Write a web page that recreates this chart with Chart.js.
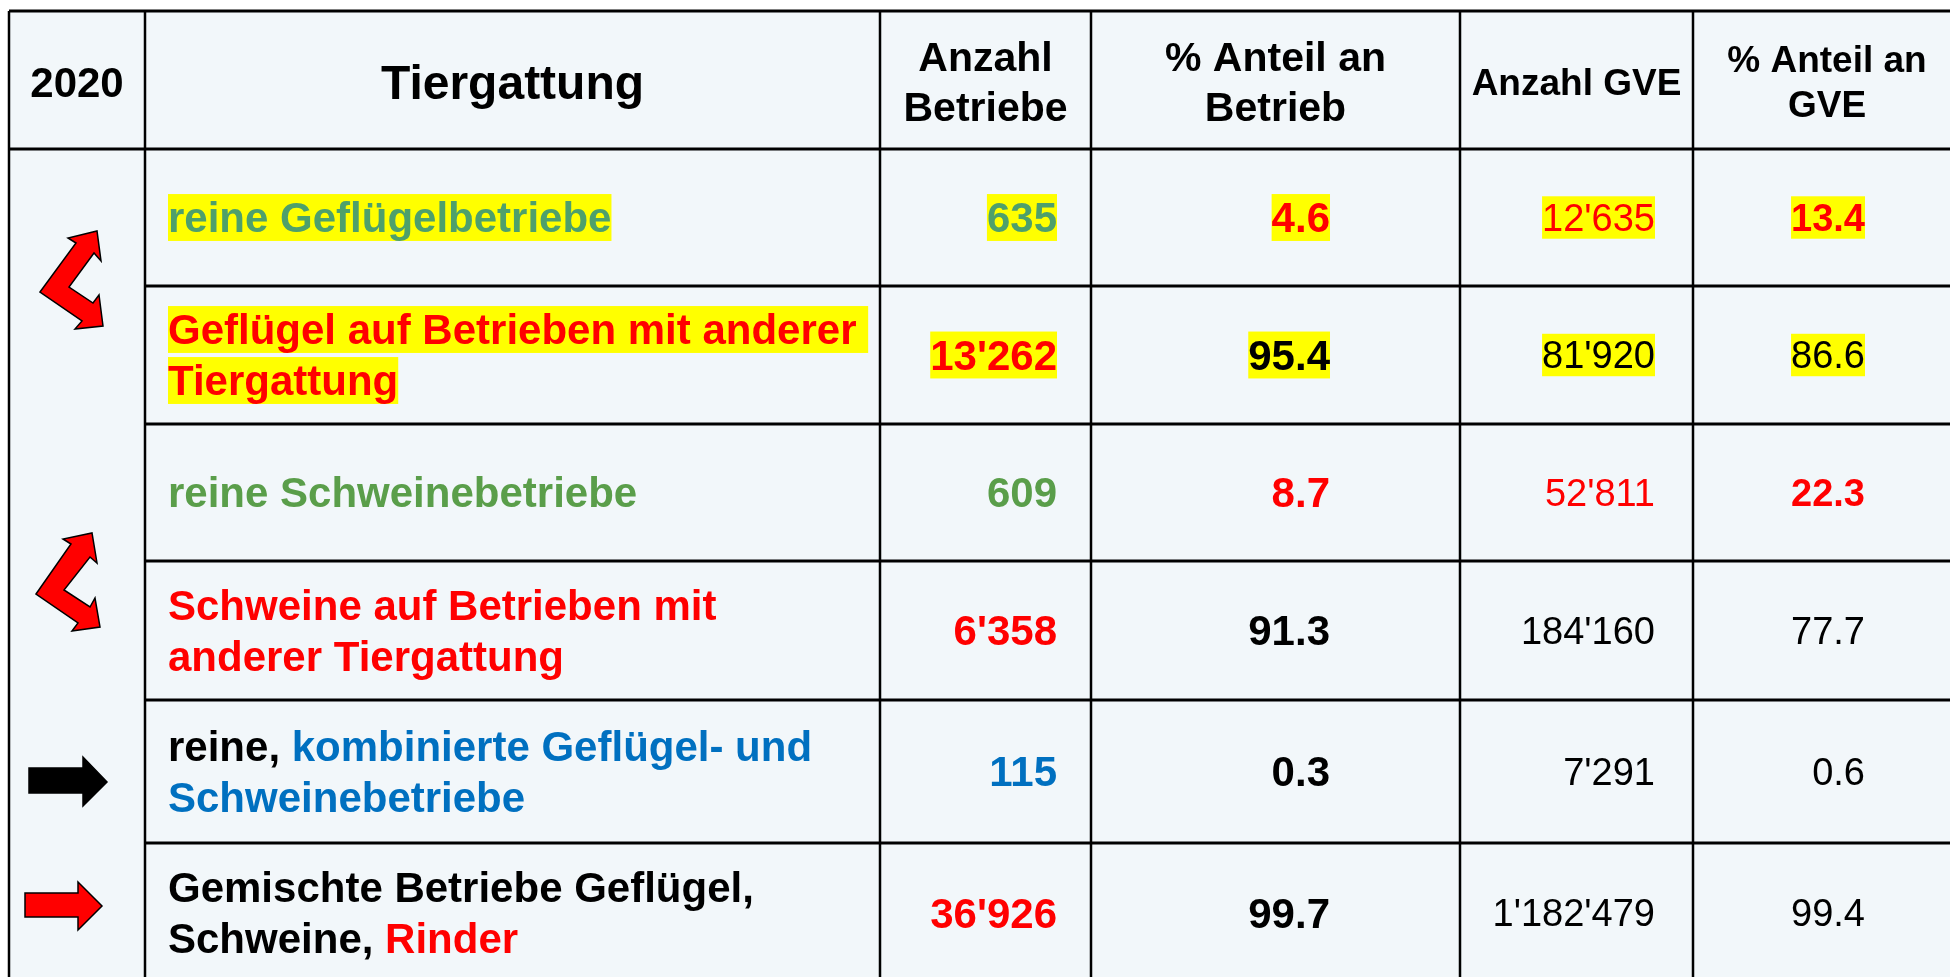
<!DOCTYPE html>
<html>
<head>
<meta charset="utf-8">
<title>Tiergattung 2020</title>
<script src="https://cdn.jsdelivr.net/npm/chart.js@4.4.1/dist/chart.umd.min.js"></script>
<style>
  html, body { margin:0; padding:0; background:#fff; overflow:hidden; }
  canvas { display:block; }
</style>
</head>
<body>
<canvas id="chart-table" width="1950" height="977"></canvas>
<script>
/*##########################################################
        [ChartJS] Tabelle - Betriebe und GVE 2020
##########################################################*/

// ---- Data
var year = "2020";
var colHeaders = [["Tiergattung"], ["Anzahl", "Betriebe"], ["% Anteil an", "Betrieb"], ["Anzahl GVE"], ["% Anteil an", "GVE"]];
var tiergattung = [
  "reine Geflügelbetriebe",
  "Geflügel auf Betrieben mit anderer \nTiergattung",
  "reine Schweinebetriebe",
  "Schweine auf Betrieben mit\nanderer Tiergattung",
  "reine, kombinierte Geflügel- und\nSchweinebetriebe",
  "Gemischte Betriebe Geflügel,\nSchweine, Rinder"
];
var anzahlBetriebe = [635, 13262, 609, 6358, 115, 36926];
var anteilBetrieb  = [4.6, 95.4, 8.7, 91.3, 0.3, 99.7];
var anzahlGve      = [12635, 81920, 52811, 184160, 7291, 1182479];
var anteilGve      = [13.4, 86.6, 22.3, 77.7, 0.6, 99.4];

// ---- Colours
var RED = "#FF0000", BLACK = "#000000", BLUE = "#0070C0", YELLOW = "#FFFF00";
var GREEN_A = "#4EA06B", GREEN_B = "#5A9E4A", CELL_BG = "#F2F7FA";
var FONT = "'Liberation Sans', Arial, sans-serif";

// ---- Cell styles (c: colour, b: bold, h: yellow highlight)
var labelStyle = [
  {c:GREEN_A, h:true},
  {c:RED, h:true},
  {c:GREEN_B},
  {c:RED},
  {c:BLUE, accents:[["reine,", BLACK]]},
  {c:BLACK, accents:[["Rinder", RED]]}
];
var betriebeStyle = [{c:GREEN_A,b:1,h:1},{c:RED,b:1,h:1},{c:GREEN_B,b:1},{c:RED,b:1},{c:BLUE,b:1},{c:RED,b:1}];
var anteilBStyle  = [{c:RED,b:1,h:1},{c:BLACK,b:1,h:1},{c:RED,b:1},{c:BLACK,b:1},{c:BLACK,b:1},{c:BLACK,b:1}];
var gveStyle      = [{c:RED,h:1},{c:BLACK,h:1},{c:RED},{c:BLACK},{c:BLACK},{c:BLACK}];
var anteilGStyle  = [{c:RED,b:1,h:1},{c:BLACK,h:1},{c:RED,b:1},{c:BLACK},{c:BLACK},{c:BLACK}];

// ---- Layout (table units, origin = table top-left)
var colEdges = [0, 136, 871, 1082, 1451, 1684, 1952];
var rowEdges = [0, 138, 275, 413, 550, 689, 832, 972];
var labelLeft = 159;
var valueRight = [1048, 1321, 1646, 1856];

// arrows in the first column (offsets from a row edge)
var arrows = [
  {row:2, fill:RED, pts:[[31,6],[67,-43],[59,-48],[88,-55],[92,-25],[85,-33],[60,1],[84,17],[90,9],[94,40],[66,43],[73,35]]},
  {row:4, fill:RED, pts:[[27,33],[62,-17],[54,-22],[83,-28],[88,2],[81,-4],[55,29],[81,46],[86,37],[91,66],[63,70],[69,62]]},
  {row:5, fill:BLACK, pts:[[20,68],[74,68],[74,57],[98,82],[74,106],[74,93],[20,93]]},
  {row:6, fill:RED, pts:[[16,50],[69,50],[69,39],[93,63],[69,87],[69,74],[16,74]]}
];

function fmtInt(n){ return String(n).replace(/\B(?=(\d{3})+(?!\d))/g, "'"); }
function fmtPct(n){ return n.toFixed(1); }

function splitSegments(line, base, accents){
  var segs = [{t:line, c:base}];
  (accents || []).forEach(function(a){
    var out = [];
    segs.forEach(function(s){
      var i = s.t.indexOf(a[0]);
      if (i < 0 || s.c !== base) { out.push(s); return; }
      if (i > 0) out.push({t:s.t.slice(0, i), c:s.c});
      out.push({t:a[0], c:a[1]});
      if (i + a[0].length < s.t.length) out.push({t:s.t.slice(i + a[0].length), c:s.c});
    });
    segs = out;
  });
  return segs;
}

// draws one line of coloured segments; mid = vertical middle of the line box
function drawLine(ctx, x, mid, segs, size, bold, align, hl){
  ctx.font = (bold ? "bold " : "") + size + "px " + FONT;
  var w = 0;
  segs.forEach(function(s){ w += ctx.measureText(s.t).width; });
  var left = align === "right" ? x - w : (align === "center" ? x - w / 2 : x);
  var base = mid + 0.3465 * size;
  if (hl) {
    ctx.fillStyle = YELLOW;
    ctx.fillRect(left, base - 0.905 * size, w, 1.117 * size);
  }
  ctx.textAlign = "left";
  ctx.textBaseline = "alphabetic";
  segs.forEach(function(s){
    ctx.fillStyle = s.c;
    ctx.fillText(s.t, left, base);
    left += ctx.measureText(s.t).width;
  });
}

var tablePlugin = {
  id: "tableCells",
  afterDraw: function(chart){
    var ctx = chart.ctx, xs = chart.scales.x, ys = chart.scales.y;
    var X = function(v){ return xs.getPixelForValue(v); };
    var Y = function(v){ return ys.getPixelForValue(v); };
    var last = colEdges.length - 1, nRows = rowEdges.length - 1;
    ctx.save();

    // background
    ctx.fillStyle = CELL_BG;
    ctx.fillRect(X(0), Y(0), X(colEdges[last]) - X(0), Y(rowEdges[nRows]) - Y(0));

    // header
    var hMid = (Y(rowEdges[0]) + Y(rowEdges[1])) / 2 + 2;
    drawLine(ctx, (X(colEdges[0]) + X(colEdges[1])) / 2, hMid, [{t:year, c:BLACK}], 42, true, "center");
    var hSizes = [48, 41, 41, 37, 37], hLead = [0, 50, 50, 45, 45];
    colHeaders.forEach(function(lines, k){
      var cx = (X(colEdges[k + 1]) + X(colEdges[k + 2])) / 2;
      lines.forEach(function(txt, j){
        var m = hMid + (j - (lines.length - 1) / 2) * hLead[k];
        drawLine(ctx, cx, m, [{t:txt, c:BLACK}], hSizes[k], true, "center");
      });
    });

    // body rows
    tiergattung.forEach(function(label, i){
      var mid = (Y(rowEdges[i + 1]) + Y(rowEdges[i + 2])) / 2;
      var st = labelStyle[i];
      var lines = label.split("\n");
      lines.forEach(function(line, j){
        var m = mid + (j - (lines.length - 1) / 2) * 51;
        drawLine(ctx, X(labelLeft), m, splitSegments(line, st.c, st.accents), 42, true, "left", st.h);
      });
      var cols = [
        [fmtInt(anzahlBetriebe[i]), betriebeStyle[i], 42],
        [fmtPct(anteilBetrieb[i]), anteilBStyle[i], 42],
        [fmtInt(anzahlGve[i]), gveStyle[i], 38],
        [fmtPct(anteilGve[i]), anteilGStyle[i], 38]
      ];
      cols.forEach(function(cv, k){
        drawLine(ctx, X(valueRight[k]), mid, [{t:cv[0], c:cv[1].c}], cv[2], cv[1].b, "right", cv[1].h);
      });
    });

    // grid lines
    ctx.strokeStyle = "#000";
    ctx.lineWidth = 3;
    ctx.beginPath();
    ctx.moveTo(X(colEdges[0]), Y(rowEdges[0])); ctx.lineTo(X(colEdges[last]), Y(rowEdges[0]));
    ctx.moveTo(X(colEdges[0]), Y(rowEdges[1])); ctx.lineTo(X(colEdges[last]), Y(rowEdges[1]));
    for (var r = 2; r <= nRows; r++) {
      ctx.moveTo(X(colEdges[1]), Y(rowEdges[r])); ctx.lineTo(X(colEdges[last]), Y(rowEdges[r]));
    }
    ctx.stroke();
    ctx.lineWidth = 2.5;
    ctx.beginPath();
    for (var c = 0; c < last; c++) {
      ctx.moveTo(X(colEdges[c]), Y(rowEdges[0])); ctx.lineTo(X(colEdges[c]), Y(rowEdges[nRows]));
    }
    ctx.stroke();

    // arrows
    arrows.forEach(function(a){
      ctx.beginPath();
      a.pts.forEach(function(p, n){
        var px = X(colEdges[0] + p[0]), py = Y(rowEdges[a.row] + p[1]);
        if (n === 0) ctx.moveTo(px, py); else ctx.lineTo(px, py);
      });
      ctx.closePath();
      ctx.fillStyle = a.fill;
      ctx.fill();
      ctx.lineWidth = 1.5;
      ctx.lineJoin = "miter";
      ctx.strokeStyle = "#000";
      ctx.stroke();
    });

    ctx.restore();
  }
};

var htmlTag = document.getElementById("chart-table");
var chartTable = new Chart(htmlTag, {
  type: "scatter",
  data: { datasets: [{ data: [] }] },
  options: {
    responsive: false,
    animation: false,
    layout: { padding: 0 },
    plugins: { legend: { display:false }, tooltip: { enabled:false } },
    scales: {
      x: { type:"linear", min:-9, max:1941, display:false },
      y: { type:"linear", min:-11, max:966, reverse:true, display:false }
    }
  },
  plugins: [tablePlugin]
});
</script>
</body>
</html>
